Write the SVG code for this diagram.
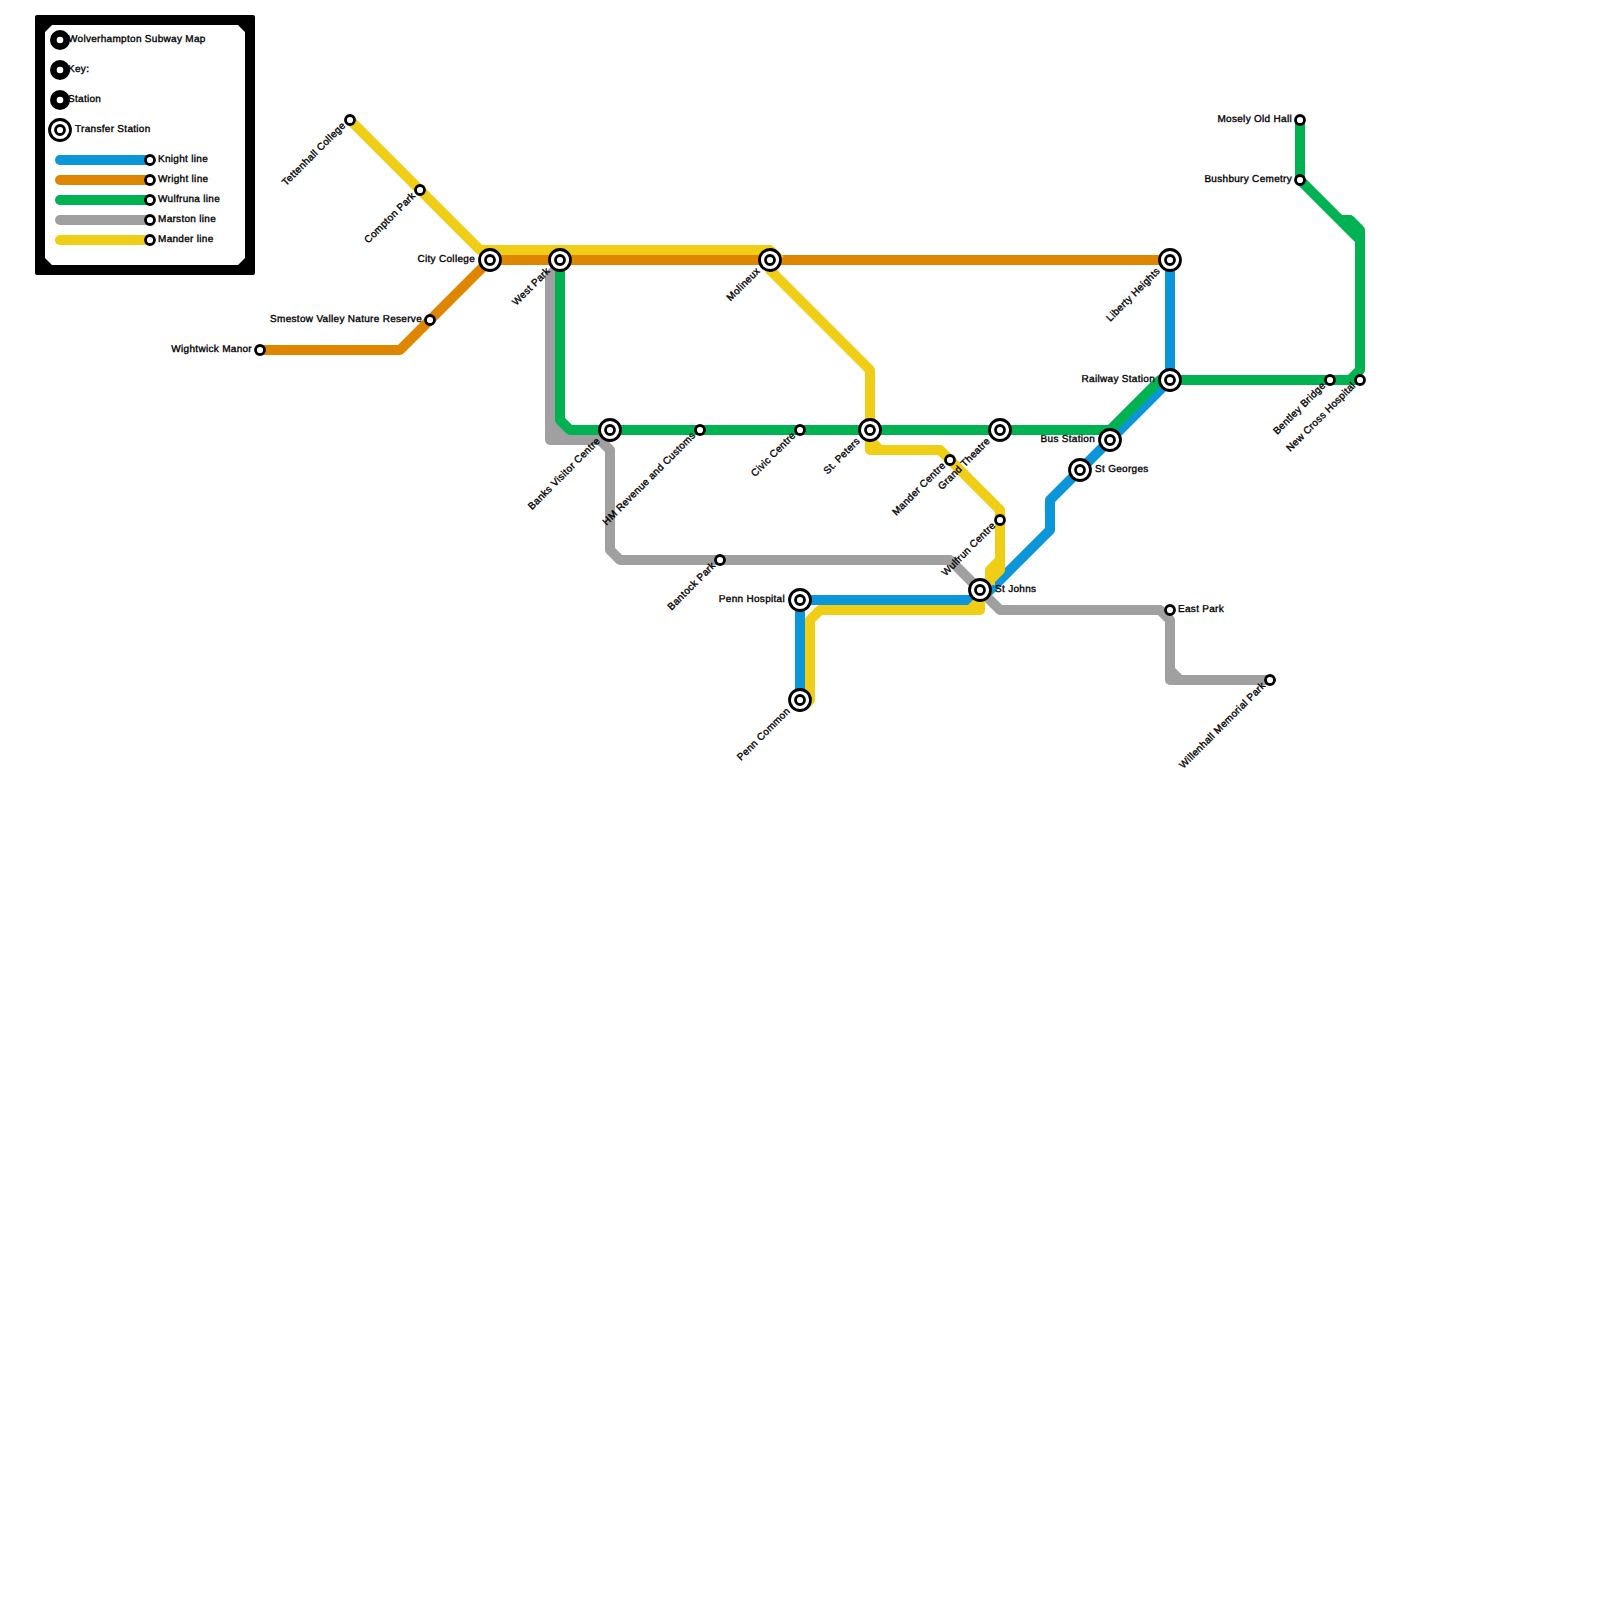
<svg xmlns="http://www.w3.org/2000/svg" width="1600" height="1600" viewBox="0 0 1600 1600">
<style>
.l{fill:none;stroke-width:10;stroke-linejoin:round;stroke-linecap:butt}
.k{stroke:#0a96d8}.w{stroke:#df8600}.g{stroke:#00b251}.m{stroke:#a0a0a0}.y{stroke:#f0ce15}
.c{fill:#fff;stroke:#000;stroke-width:2.8}
text{font-family:"Liberation Sans",Arial,sans-serif;font-size:10px;font-weight:400;fill:#000;stroke:#000;stroke-width:.35px;letter-spacing:.03em;text-rendering:geometricPrecision}
.e{text-anchor:end}
</style>
<defs>
<g id="s"><circle class="c" r="4.5"/></g>
<g id="t"><circle class="c" r="10.5"/><circle class="c" r="4.5"/></g>
<g id="d"><circle r="10"/><circle r="3.3" fill="#fff"/></g>
</defs>
<g id="legend">
<path d="M37 15H253a2 2 0 0 1 2 2V273a2 2 0 0 1-2 2H37a2 2 0 0 1-2-2V17a2 2 0 0 1 2-2ZM52 25L45 32V258L52 265H238L245 258V32L238 25Z" fill="#000" fill-rule="evenodd"/>
<use href="#d" x="60" y="40"/><text x="68" y="42">Wolverhampton Subway Map</text>
<use href="#d" x="60" y="70"/><text x="68" y="72">Key:</text>
<use href="#d" x="60" y="100"/><text x="68" y="102">Station</text>
<use href="#t" x="60" y="130"/><text x="75" y="132">Transfer Station</text>
<g stroke-linecap="round" stroke-width="10" fill="none">
<path class="k" d="M60 160H150"/><path class="w" d="M60 180H150"/><path class="g" d="M60 200H150"/><path class="m" d="M60 220H150"/><path class="y" d="M60 240H150"/>
</g>
<use href="#s" x="150" y="160"/><text x="158" y="162">Knight line</text>
<use href="#s" x="150" y="180"/><text x="158" y="182">Wright line</text>
<use href="#s" x="150" y="200"/><text x="158" y="202">Wulfruna line</text>
<use href="#s" x="150" y="220"/><text x="158" y="222">Marston line</text>
<use href="#s" x="150" y="240"/><text x="158" y="242">Mander line</text>
</g>
<g id="connectors">
<path class="l k" d="M1170 260V380L1050 500V530L980 600H800V700"/>
<path class="l w" d="M260 350H400L490 260H1170"/>
<path class="l m" d="M560 265L550 275V440H600L610 450V550L620 560H950L1000 610H1160L1170 620V680H1270M1170 670L1180 680M550 430L560 440M550 420L570 440"/>
<path class="l g" d="M560 260V420L570 430H1110L1160 380H1360"/>
<path class="l g" d="M1350 380L1360 370V230L1350 220H1340M1300 120V180L1360 240"/>
<path class="l y" d="M350 120L480 250H770L780 260M770 260V270L870 370V450H940L1000 510V570L980 590V610H820L810 620V700L805 705M870 440L880 450M1000 560L990 570V585M970 610L980 600"/>
</g>
<g id="tettenhall-college"><use href="#s" x="350" y="120"/><text class="e" transform="translate(344 124) rotate(-45)" dy="3">Tettenhall College</text></g>
<g id="compton-park"><use href="#s" x="420" y="190"/><text class="e" transform="translate(414 194) rotate(-45)" dy="3">Compton Park</text></g>
<g id="smestow"><use href="#s" x="430" y="320"/><text class="e" x="422" y="322">Smestow Valley Nature Reserve</text></g>
<g id="wightwick-manor"><use href="#s" x="260" y="350"/><text class="e" x="252" y="352">Wightwick Manor</text></g>
<g id="city-college"><use href="#t" x="490" y="260"/><text class="e" x="475" y="262">City College</text></g>
<g id="west-park"><use href="#t" x="560" y="260"/><text class="e" transform="translate(548.5 269.5) rotate(-45)" dy="3">West Park</text></g>
<g id="molineux"><use href="#t" x="770" y="260"/><text class="e" transform="translate(758.5 269.5) rotate(-45)" dy="3">Molineux</text></g>
<g id="liberty-heights"><use href="#t" x="1170" y="260"/><text class="e" transform="translate(1158.5 269.5) rotate(-45)" dy="3">Liberty Heights</text></g>
<g id="railway-station"><use href="#t" x="1170" y="380"/><text class="e" x="1155" y="382">Railway Station</text></g>
<g id="bus-station"><use href="#t" x="1110" y="440"/><text class="e" x="1095" y="442">Bus Station</text></g>
<g id="st-georges"><use href="#t" x="1080" y="470"/><text x="1095" y="472">St Georges</text></g>
<g id="st-johns"><use href="#t" x="980" y="590"/><text x="995" y="592">St Johns</text></g>
<g id="penn-hospital"><use href="#t" x="800" y="600"/><text class="e" x="785" y="602">Penn Hospital</text></g>
<g id="penn-common"><use href="#t" x="800" y="700"/><text class="e" transform="translate(788.5 709.5) rotate(-45)" dy="3">Penn Common</text></g>
<g id="banks-visitor-centre"><use href="#t" x="610" y="430"/><text class="e" transform="translate(598.5 439.5) rotate(-45)" dy="3">Banks Visitor Centre</text></g>
<g id="hm-revenue"><use href="#s" x="700" y="430"/><text class="e" transform="translate(694 434) rotate(-45)" dy="3">HM Revenue and Customs</text></g>
<g id="civic-centre"><use href="#s" x="800" y="430"/><text class="e" transform="translate(794 434) rotate(-45)" dy="3">Civic Centre</text></g>
<g id="st-peters"><use href="#t" x="870" y="430"/><text class="e" transform="translate(858.5 439.5) rotate(-45)" dy="3">St. Peters</text></g>
<g id="grand-theatre"><use href="#t" x="1000" y="430"/><text class="e" transform="translate(988.5 439.5) rotate(-45)" dy="3">Grand Theatre</text></g>
<g id="mander-centre"><use href="#s" x="950" y="460"/><text class="e" transform="translate(944 464) rotate(-45)" dy="3">Mander Centre</text></g>
<g id="wulfrun-centre"><use href="#s" x="1000" y="520"/><text class="e" transform="translate(994 524) rotate(-45)" dy="3">Wulfrun Centre</text></g>
<g id="bantock-park"><use href="#s" x="720" y="560"/><text class="e" transform="translate(714 564) rotate(-45)" dy="3">Bantock Park</text></g>
<g id="east-park"><use href="#s" x="1170" y="610"/><text x="1178" y="612">East Park</text></g>
<g id="willenhall"><use href="#s" x="1270" y="680"/><text class="e" transform="translate(1264 684) rotate(-45)" dy="3">Willenhall Memorial Park</text></g>
<g id="mosely-old-hall"><use href="#s" x="1300" y="120"/><text class="e" x="1292" y="122">Mosely Old Hall</text></g>
<g id="bushbury-cemetry"><use href="#s" x="1300" y="180"/><text class="e" x="1292" y="182">Bushbury Cemetry</text></g>
<g id="bentley-bridge"><use href="#s" x="1330" y="380"/><text class="e" transform="translate(1324 384) rotate(-45)" dy="3">Bentley Bridge</text></g>
<g id="new-cross-hospital"><use href="#s" x="1360" y="380"/><text class="e" transform="translate(1354 384) rotate(-45)" dy="3">New Cross Hospital</text></g>
</svg>
